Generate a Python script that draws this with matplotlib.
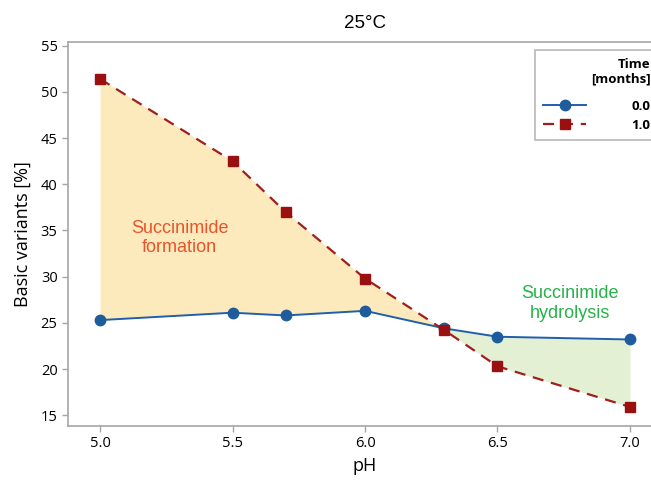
import matplotlib
matplotlib.use('Agg')
import matplotlib.pyplot as plt
import numpy as np

# Data
ph = [5.0, 5.5, 5.7, 6.0, 6.3, 6.5, 7.0]
basic_t0 = [25.3, 26.1, 25.8, 26.3, 24.4, 23.5, 23.2]
basic_t1 = [51.4, 42.5, 37.0, 29.8, 24.2, 20.3, 15.9]
series_labels = ['0.0', '1.0']
x_ticks = [5.0, 5.5, 6.0, 6.5, 7.0]
y_ticks = [15, 20, 25, 30, 35, 40, 45, 50, 55]

W, H = 651, 480
fig = plt.figure(figsize=(W / 100, H / 100), dpi=100)
ax = fig.add_axes([68 / W, 1 - 425.7 / H, 594 / W, (425.7 - 41.7) / H])

x = np.array(ph)
y0 = np.array(basic_t0)
y1 = np.array(basic_t1)

# shaded regions between the two series
ax.fill_between(x, y0, y1, where=y1 >= y0, interpolate=True,
                color='#fdeabc', lw=0, zorder=1)
ax.fill_between(x, y0, y1, where=y1 <= y0, interpolate=True,
                color='#e3f0d3', lw=0, zorder=1)

ax.plot(x, y0, color='#1f5fae', lw=1.4, marker='o', ms=7.5,
        mfc='#1f5c9c', mec='#1f5c9c', label=series_labels[0], zorder=3)
ax.plot(x, y1, color='#a01e1e', lw=1.6, ls=(0, (5, 3.5)), marker='s', ms=7.5,
        mfc='#9a1010', mec='#9a1010', label=series_labels[1], zorder=3)

ax.text(5.30, 34.2, 'Succinimide\nformation', color='#e8542c', fontsize=13,
        ha='center', va='center', family='Liberation Sans', zorder=4)
ax.text(6.775, 27.1, 'Succinimide\nhydrolysis', color='#27b14a', fontsize=13,
        ha='center', va='center', family='Liberation Sans', zorder=4)

ax.set_xlim(4.879, 7.121)
ax.set_ylim(13.87, 55.43)
ax.set_xticks(x_ticks)
ax.set_xticklabels([f'{v:.1f}' for v in x_ticks])
ax.set_yticks(y_ticks)

ax.spines['right'].set_visible(False)
for s in ax.spines.values():
    s.set_color('#a6a6a6')
    s.set_linewidth(1.2)
ax.tick_params(axis='both', colors='#a6a6a6', labelcolor='black',
               labelsize=10.5, length=4, width=1)
for lbl in ax.get_xticklabels() + ax.get_yticklabels():
    lbl.set_family('Open Sans')

ax.set_xlabel('pH', fontsize=13, family='Open Sans', labelpad=4)
ax.set_ylabel('Basic variants [%]', fontsize=13, family='Open Sans', labelpad=6)
ax.set_title('25°C', fontsize=13.5, family='Liberation Sans', pad=10)

leg = ax.legend(title='Time\n[months]', loc='upper left',
                bbox_to_anchor=(467 / 594, 1 - 8.3 / 384), frameon=True,
                fancybox=False, fontsize=9.5, title_fontsize=9.5,
                alignment='right', handlelength=3.3, borderpad=0.6,
                labelspacing=0.45, handletextpad=3.4, borderaxespad=0)
leg._legend_box.sep = 10
leg.get_frame().set_edgecolor('#a6a6a6')
leg.get_frame().set_linewidth(1.2)
leg.get_title().set_fontweight('bold')
leg.get_title().set_family('Open Sans')
leg.get_title().set_multialignment('right')
for t in leg.get_texts():
    t.set_family('Open Sans')
    t.set_fontweight('bold')

fig.savefig('out.png', dpi=100)
plt.close()
